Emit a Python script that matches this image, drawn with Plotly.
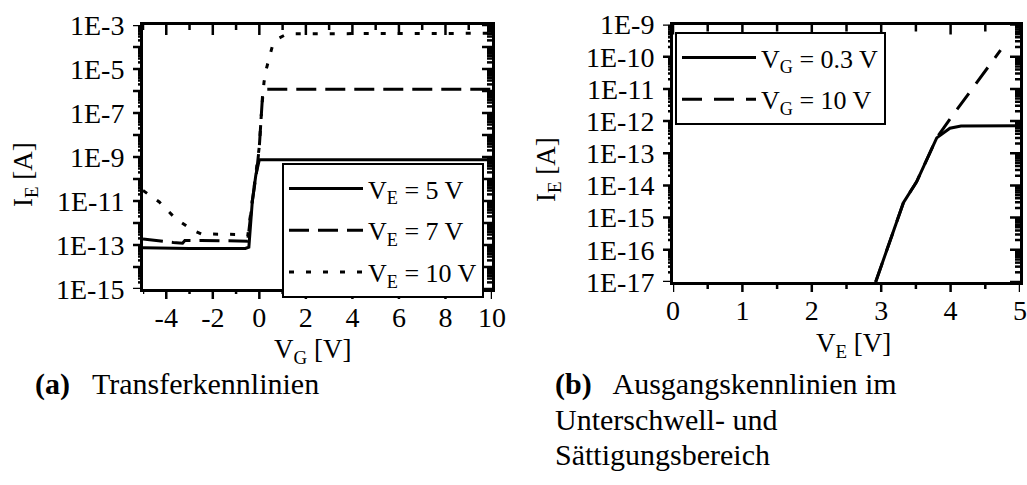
import plotly.graph_objects as go

# (a) transfer characteristics: I_E versus V_G for three emitter voltages
vg_5 = [-5, -3, -0.6, -0.45, -0.3, -0.15, 0.0, 10]
ie_5 = [7.5e-14, 7e-14, 7e-14, 8e-14, 1e-11, 1.5e-10, 7.5e-10, 7.5e-10]

vg_7 = [-5, -4.5, -3.7, -3.3, -3.2, -2.5, -0.5, -0.3, -0.1, 0.0, 0.14, 0.3, 10]
ie_7 = [1.9e-13, 1.6e-13, 1.3e-13, 1.2e-13, 1.6e-13, 1.6e-13, 1.5e-13, 1e-11,
        3e-10, 3e-9, 6.6e-7, 1.2e-6, 1.2e-6]

vg_10 = [-5, -4.3, -3.6, -2.9, -2.5, -0.7, -0.5, -0.3, -0.1, 0.0, 0.1, 0.2,
         0.3, 0.55, 0.8, 1.1, 1.5, 10]
ie_10 = [3e-11, 9e-12, 1.6e-12, 5e-13, 3.2e-13, 3e-13, 2.5e-13, 1e-11, 3e-10,
         3e-9, 1.5e-7, 2.5e-6, 1e-5, 1e-4, 2.4e-4, 3.5e-4, 4e-4, 4.2e-4]

# (b) output characteristics: I_E versus V_E for two gate voltages
ve_03 = [2.92, 3.32, 3.51, 3.8, 3.99, 4.15, 5.0]
ie_03 = [1e-17, 2.9e-15, 1.3e-14, 3e-13, 6e-13, 7e-13, 7.2e-13]

ve_10 = [2.92, 3.32, 3.51, 3.8, 3.97, 4.5, 4.72]
ie_10v = [1e-17, 2.9e-15, 1.3e-14, 3e-13, 1e-12, 3.7e-11, 1.6e-10]

# tick positions and labels
a_xmajor = [-4, -2, 0, 2, 4, 6, 8, 10]
a_xlabels = ["-4", "-2", "0", "2", "4", "6", "8", "10"]
a_xminor = [-5, -3, -1, 1, 3, 5, 7, 9]
a_decades = list(range(-15, -2))
a_ylabels = [f"1E{d}" if d % 2 != 0 else "" for d in a_decades]
b_xmajor = [0, 1, 2, 3, 4, 5]
b_xlabels = ["0", "1", "2", "3", "4", "5"]
b_xminor = [0.5, 1.5, 2.5, 3.5, 4.5]
b_decades = list(range(-17, -8))
b_ylabels = [f"1E{d}" for d in b_decades]

W, H = 1027, 485
SERIF = "Liberation Serif"
BLACK = "#000000"


def px_x(p):
    return p / W


def px_y(p):
    return 1 - p / H


fig = go.Figure()


def curve(x, y, name, dash, xa, ya, leg, group):
    fig.add_trace(go.Scatter(
        x=x, y=y, name=name, mode="lines",
        line=dict(color=BLACK, width=3, dash=dash),
        xaxis=xa, yaxis=ya, legend=leg, legendgroup=group))


curve(vg_5, ie_5, "V<sub>E</sub> = 5 V", "solid", "x", "y", "legend", "a1")
curve(vg_7, ie_7, "V<sub>E</sub> = 7 V", "20px,9px", "x", "y", "legend", "a2")
curve(vg_10, ie_10, "V<sub>E</sub> = 10 V", "5px,12px", "x", "y", "legend", "a3")
curve(ve_03, ie_03, "V<sub>G</sub> = 0.3 V", "solid", "x2", "y2", "legend2", "b1")
curve(ve_10, ie_10v, "V<sub>G</sub> = 10 V", "20px,12px", "x2", "y2", "legend2", "b2")

tickfont = dict(family=SERIF, size=28, color=BLACK)

dom_ax = [px_x(143), px_x(492)]
dom_ay = [px_y(289), px_y(25)]
dom_bx = [px_x(673), px_x(1020)]
dom_by = [px_y(282), px_y(24.5)]

frame = dict(showline=True, linewidth=3, linecolor=BLACK, mirror=True,
             showgrid=False, zeroline=False, tickfont=tickfont,
             ticks="outside", ticklen=10, tickcolor="rgba(0,0,0,0)",
             automargin=False, tickmode="array")

fig.update_layout(
    width=W, height=H,
    margin=dict(l=0, r=0, t=0, b=0, autoexpand=False),
    paper_bgcolor="white", plot_bgcolor="white",
    showlegend=True,
    xaxis=dict(domain=dom_ax, anchor="y", range=[-5, 10], tickvals=a_xmajor,
               ticktext=a_xlabels, ticklabelstandoff=-9, **frame),
    yaxis=dict(domain=dom_ay, anchor="x", type="log", range=[-15, -3],
               tickvals=[10.0 ** d for d in a_decades], ticktext=a_ylabels,
               **frame),
    xaxis2=dict(domain=dom_bx, anchor="y2", range=[0, 5], tickvals=b_xmajor,
                ticktext=b_xlabels, ticklabelstandoff=-9, **frame),
    yaxis2=dict(domain=dom_by, anchor="x2", type="log", range=[-17, -9],
                tickvals=[10.0 ** d for d in b_decades], ticktext=b_ylabels,
                **frame),
    legend=dict(x=px_x(282), y=px_y(163), xanchor="left", yanchor="top",
                bgcolor="white", bordercolor=BLACK, borderwidth=2,
                font=dict(family=SERIF, size=26, color=BLACK),
                itemwidth=74, tracegroupgap=5, traceorder="grouped"),
    legend2=dict(x=px_x(675), y=px_y(32), xanchor="left", yanchor="top",
                 bgcolor="white", bordercolor=BLACK, borderwidth=2,
                 font=dict(family=SERIF, size=26, color=BLACK),
                 itemwidth=74, tracegroupgap=5, traceorder="grouped"),
)

# tick marks as layout lines: bottom/left point outward,
# top/right point into the frame
TICK = dict(color=BLACK, width=2.5)


def x_ticks(xa, xdom_y, vals, length):
    lo, hi = xdom_y
    for v in vals:
        fig.add_shape(type="line", xref=xa, yref="paper", x0=v, x1=v,
                      y0=lo, y1=lo - length / H, line=TICK, layer="above")
        fig.add_shape(type="line", xref=xa, yref="paper", x0=v, x1=v,
                      y0=hi, y1=hi - length / H, line=TICK, layer="above")


def y_ticks(ya, ydom_x, vals, length):
    lo, hi = ydom_x
    for v in vals:
        fig.add_shape(type="line", yref=ya, xref="paper", y0=v, y1=v,
                      x0=lo, x1=lo - length / W, line=TICK, layer="above")
        fig.add_shape(type="line", yref=ya, xref="paper", y0=v, y1=v,
                      x0=hi, x1=hi - length / W, line=TICK, layer="above")


def log_minor(decades):
    return [m * 10.0 ** d for d in decades[:-1] for m in range(2, 10)]


x_ticks("x", dom_ay, a_xmajor, 10)
x_ticks("x", dom_ay, a_xminor, 5)
y_ticks("y", dom_ax, [10.0 ** d for d in a_decades], 10)
y_ticks("y", dom_ax, log_minor(a_decades), 5)
x_ticks("x2", dom_by, b_xmajor, 10)
x_ticks("x2", dom_by, b_xminor, 7)
y_ticks("y2", dom_bx, [10.0 ** d for d in b_decades], 10)
y_ticks("y2", dom_bx, log_minor(b_decades), 5)

title_font = dict(family=SERIF, size=27, color=BLACK)
cap_font = dict(family=SERIF, size=30, color=BLACK)

annotations = [
    dict(text="I<sub>E</sub> [A]", x=px_x(25), y=px_y(175), textangle=-90,
         font=title_font),
    dict(text="I<sub>E</sub> [A]", x=px_x(548), y=px_y(170), textangle=-90,
         font=title_font),
    dict(text="V<sub>G</sub> [V]", x=px_x(312), y=px_y(351), font=title_font),
    dict(text="V<sub>E</sub> [V]", x=px_x(853), y=px_y(345), font=title_font),
    dict(text="<b>(a)</b>   Transferkennlinien", x=px_x(33), y=px_y(384),
         xanchor="left", font=cap_font),
    dict(text="<b>(b)</b>   Ausgangskennlinien im", x=px_x(553), y=px_y(384),
         xanchor="left", font=cap_font),
    dict(text="Unterschwell- und", x=px_x(553), y=px_y(419),
         xanchor="left", font=cap_font),
    dict(text="Sättigungsbereich", x=px_x(553), y=px_y(454),
         xanchor="left", font=cap_font),
]
for a in annotations:
    a.setdefault("xanchor", "center")
    a.setdefault("yanchor", "middle")
    fig.add_annotation(xref="paper", yref="paper", showarrow=False, **a)

fig.write_html("out.html")
